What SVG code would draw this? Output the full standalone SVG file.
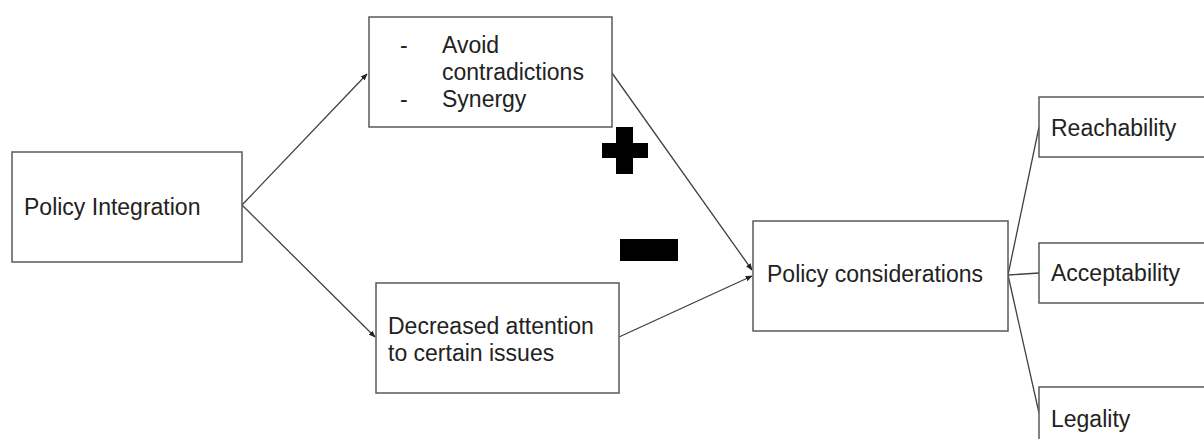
<svg xmlns="http://www.w3.org/2000/svg" width="1204" height="439" viewBox="0 0 1204 439">
<style>
.box{fill:#fff;stroke:#595959;stroke-width:1.5}
.t{font-family:"Liberation Sans",Arial,sans-serif;font-size:23px;fill:#222}
.ln{fill:none;stroke:#404040;stroke-width:1.3}
.arr{marker-end:url(#ah)}
</style>
<defs>
<marker id="ah" viewBox="0 0 10 10" refX="9" refY="5" markerWidth="7" markerHeight="7" markerUnits="userSpaceOnUse" orient="auto">
<path d="M0,1 L10,5 L0,9 z" fill="#222"/>
</marker>
</defs>
<rect width="1204" height="439" fill="#fff"/>
<g id="connectors">
<line class="ln arr" x1="242" y1="205" x2="367" y2="74"/>
<line class="ln arr" x1="242" y1="205" x2="375" y2="337"/>
<line class="ln arr" x1="612" y1="73" x2="752" y2="270"/>
<line class="ln arr" x1="619" y1="337" x2="752" y2="276"/>
<line class="ln" x1="1008" y1="275" x2="1039" y2="127"/>
<line class="ln" x1="1008" y1="275" x2="1039" y2="273"/>
<line class="ln" x1="1008" y1="275" x2="1039" y2="413"/>
</g>
<g id="policy-integration">
<rect class="box" x="12" y="152" width="230" height="110"/>
<text class="t" x="24" y="215">Policy Integration</text>
</g>
<g id="benefits">
<rect class="box" x="369" y="17" width="243" height="110"/>
<text class="t" x="400" y="53">-</text>
<text class="t" x="442" y="53">Avoid</text>
<text class="t" x="442" y="80">contradictions</text>
<text class="t" x="400" y="107">-</text>
<text class="t" x="442" y="107">Synergy</text>
</g>
<g id="decreased-attention">
<rect class="box" x="376" y="283" width="243" height="110"/>
<text class="t" x="388" y="334">Decreased attention</text>
<text class="t" x="388" y="361">to certain issues</text>
</g>
<g id="plus">
<rect x="616" y="127" width="17" height="47" fill="#000"/>
<rect x="602" y="143" width="46" height="15" fill="#000"/>
</g>
<g id="minus">
<rect x="620" y="239" width="58" height="22" fill="#000"/>
</g>
<g id="policy-considerations">
<rect class="box" x="753" y="221" width="255" height="110"/>
<text class="t" x="767" y="282">Policy considerations</text>
</g>
<g id="reachability">
<rect class="box" x="1039" y="97" width="180" height="60"/>
<text class="t" x="1051" y="136">Reachability</text>
</g>
<g id="acceptability">
<rect class="box" x="1039" y="243" width="180" height="60"/>
<text class="t" x="1051" y="281">Acceptability</text>
</g>
<g id="legality">
<rect class="box" x="1039" y="387" width="180" height="70"/>
<text class="t" x="1051" y="427">Legality</text>
</g>
</svg>
